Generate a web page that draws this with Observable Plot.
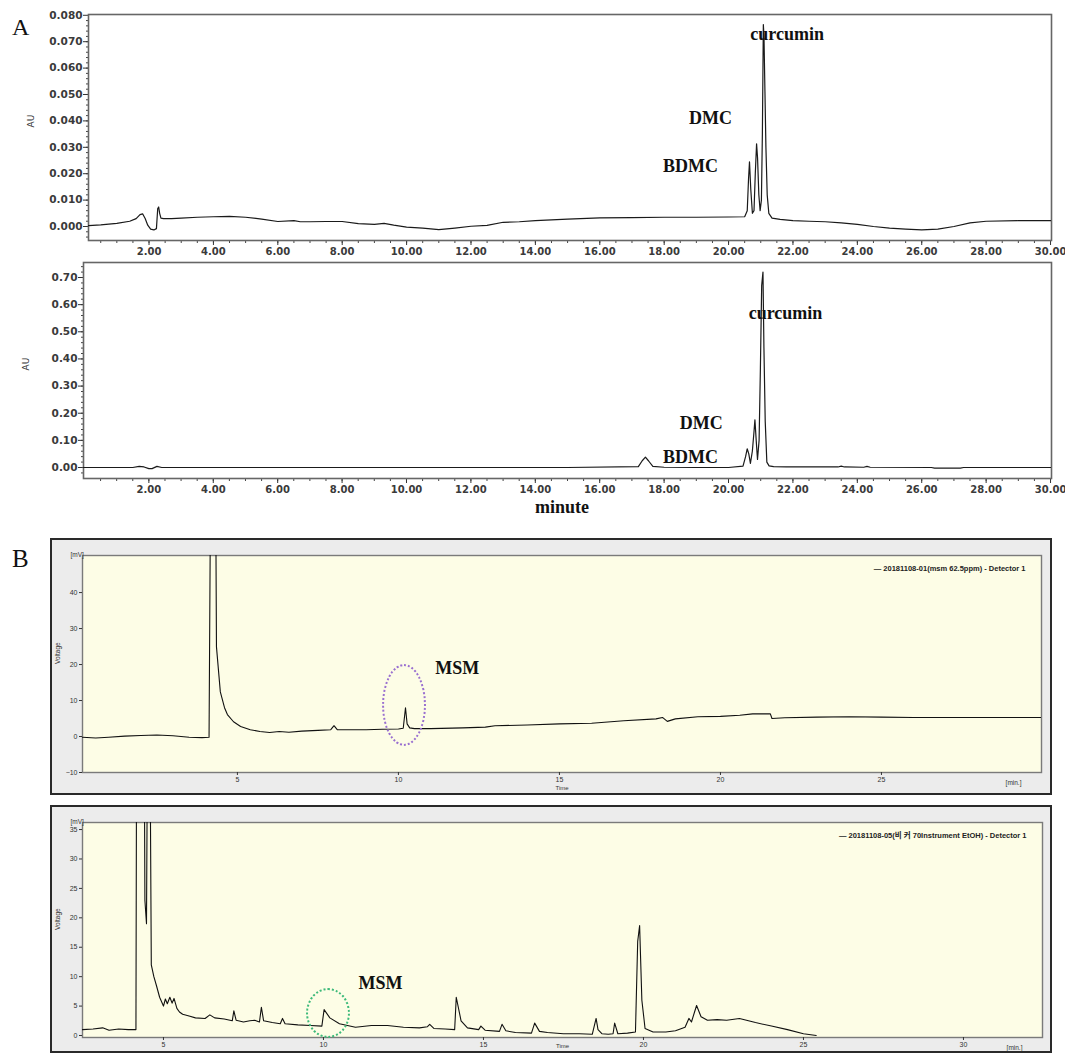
<!DOCTYPE html>
<html><head><meta charset="utf-8">
<script src="https://cdn.jsdelivr.net/npm/d3@7"></script>
<script src="https://cdn.jsdelivr.net/npm/@observablehq/plot@0.6"></script>
<style>
body{margin:0;background:#fff;}
#root{position:relative;width:1065px;height:1053px;overflow:hidden;background:#fff;}
.slot{position:absolute;left:0;}
.lbl{position:absolute;font-family:"Liberation Serif","Times New Roman",serif;color:#111;white-space:nowrap;}
.panelB{position:absolute;box-sizing:border-box;border:2px solid #2a2a2a;background:#ececec;overflow:hidden;}
.ell{position:absolute;border-radius:50%;box-sizing:border-box;}
svg{overflow:visible;}
</style></head><body><div id="root"></div>
<script>
// ---------- Panel A (top): HPLC standard ----------
const a1Time = [0.12,0.5,1.0,1.4,1.6,1.72,1.8,1.88,1.96,2.05,
  2.15,2.23,2.27,2.3,2.33,2.37,2.45,2.7,3.0,3.5,
  4.0,4.5,5.0,5.5,6.0,6.5,6.7,7.0,7.5,8.0,
  8.5,9.0,9.3,9.6,10.0,10.5,11.0,11.5,12.0,12.5,
  13.0,13.5,14.0,15.0,16.0,17.0,18.0,19.0,20.0,20.5,
  20.58,20.62,20.65,20.69,20.74,20.79,20.83,20.87,20.9,20.94,
  20.98,21.02,21.05,21.08,21.1,21.13,21.16,21.2,21.25,21.35,
  21.6,22.0,22.5,23.0,23.5,24.0,24.5,25.0,25.5,26.0,
  26.5,27.0,27.5,28.0,29.0,30.03];
const a1Value = [0.0003,0.0006,0.0012,0.002,0.003,0.0045,0.0048,0.003,0.0005,-0.001,
  -0.0013,-0.0008,0.0068,0.0074,0.005,0.0032,0.003,0.003,0.0032,0.0035,
  0.0037,0.0038,0.0035,0.0028,0.0019,0.0022,0.0018,0.0018,0.0019,0.0019,
  0.0011,0.0008,0.0012,0.0005,-0.0002,-0.0006,-0.0012,-0.0006,0.0001,0.0004,
  0.0016,0.0018,0.0022,0.0028,0.0033,0.0034,0.0035,0.0035,0.0036,0.0037,
  0.006,0.018,0.0245,0.014,0.005,0.006,0.02,0.0313,0.026,0.012,
  0.006,0.01,0.035,0.0765,0.072,0.051,0.03,0.012,0.005,0.0032,
  0.0027,0.0022,0.002,0.0018,0.0014,0.0008,0.0,-0.0006,-0.001,-0.0013,
  -0.001,0.0,0.0014,0.002,0.0022,0.0022];
const a1LabelText = ["curcumin","DMC","BDMC"];
const a1LabelTime = [21.82,19.44,18.82];
const a1LabelValue = [0.0730,0.0409,0.0228];
const a1YTicks = [0,0.01,0.02,0.03,0.04,0.05,0.06,0.07,0.08];

// ---------- Panel A (bottom): HPLC sample ----------
const a2Time = [-0.03,1.5,1.7,1.85,2.0,2.1,2.25,2.4,5.0,10.0,
  15.0,17.2,17.32,17.42,17.52,17.65,18.0,19.0,20.0,20.45,
  20.53,20.58,20.63,20.68,20.74,20.79,20.82,20.86,20.9,20.95,
  20.99,21.03,21.07,21.1,21.14,21.19,21.26,21.4,21.8,23.4,
  23.5,23.6,24.2,24.3,24.4,26.3,26.4,27.2,27.3,30.03];
const a2Value = [0.0,0.0,0.004,0.002,-0.004,-0.004,0.004,0.0,0.0,0.0,
  0.0,0.003,0.025,0.038,0.024,0.004,0.001,0.0,0.0,0.005,
  0.04,0.069,0.05,0.015,0.06,0.13,0.176,0.1,0.03,0.1,
  0.364,0.67,0.72,0.44,0.17,0.02,0.006,0.003,0.002,0.002,
  0.005,0.002,0.001,0.004,0.001,0.0,-0.002,-0.002,0.0,0.0];
const a2LabelText = ["curcumin","DMC","BDMC"];
const a2LabelTime = [21.77,19.15,18.82];
const a2LabelValue = [0.567,0.163,0.0361];
const a2YTicks = [0,0.1,0.2,0.3,0.4,0.5,0.6,0.7];

const aXTicks = [2,4,6,8,10,12,14,16,18,20,22,24,26,28,30];

// ---------- Panel B (top): MSM standard ----------
const b1Time = [0.19,0.6,1.0,1.5,2.0,2.5,3.0,3.5,3.9,4.12,
  4.16,4.33,4.35,4.47,4.6,4.69,4.88,5.1,5.4,5.7,
  6.0,6.3,6.6,7.0,7.5,7.9,8.0,8.1,8.5,9.0,
  9.5,10.0,10.15,10.22,10.27,10.35,10.5,11.0,12.0,12.7,
  13.0,14.0,15.0,16.0,17.0,18.0,18.2,18.35,18.6,19.3,
  20.0,20.6,21.0,21.55,21.6,22.0,23.0,24.0,25.0,26.0,
  27.0,28.0,29.0,29.97];
const b1Value = [-0.2,-0.4,-0.2,0.1,0.3,0.4,0.2,-0.2,-0.3,-0.2,
  60,60,24.9,12.4,8.0,6.1,4.1,2.8,1.9,1.4,
  1.1,1.4,1.2,1.5,1.7,1.9,3.0,1.9,1.9,1.9,
  2.0,2.1,2.3,8.0,3.5,2.4,2.2,2.2,2.4,2.6,
  3.0,3.2,3.5,3.7,4.4,4.9,5.3,4.2,4.9,5.5,
  5.6,5.9,6.3,6.3,5.0,5.2,5.4,5.5,5.4,5.3,
  5.3,5.3,5.3,5.3];
const b1Legend = "— 20181108-01(msm 62.5ppm) - Detector 1";
const b1YTicks = [-10,0,10,20,30,40];
const b1XTicks = [5,10,15,20,25];

// ---------- Panel B (bottom): sample ----------
const b2Time = [2.47,2.8,3.1,3.3,3.6,3.9,4.14,4.16,4.4,4.42,
  4.47,4.5,4.58,4.62,4.7,4.78,4.88,5.0,5.06,5.12,
  5.2,5.27,5.33,5.42,5.5,5.6,5.8,6.0,6.3,6.45,
  6.6,6.9,7.15,7.2,7.27,7.5,7.7,7.85,8.0,8.06,
  8.13,8.4,8.65,8.72,8.8,9.2,9.6,9.95,10.02,10.2,
  10.5,11.0,11.5,12.0,12.5,13.0,13.25,13.32,13.45,13.8,
  14.1,14.15,14.3,14.5,14.85,14.92,15.05,15.5,15.58,15.7,
  16.0,16.5,16.6,16.75,17.0,17.5,18.0,18.4,18.52,18.58,
  18.7,18.9,19.05,19.1,19.2,19.5,19.75,19.82,19.88,19.95,
  20.05,20.3,20.7,21.0,21.3,21.42,21.5,21.66,21.8,22.0,
  22.3,22.6,23.0,23.5,24.0,24.5,25.0,25.4];
const b2Value = [1.0,1.1,1.3,0.9,1.1,1.0,1.0,50,50,23,
  19,50,50,12,10,8.5,6.5,5.0,6.2,5.4,
  6.5,5.5,6.3,4.6,4.0,3.6,3.3,3.0,2.9,3.5,
  3.0,2.8,2.5,4.2,2.6,2.3,2.5,2.6,2.3,4.8,
  2.5,2.2,2.0,2.9,2.0,1.8,1.7,1.6,4.4,3.0,
  2.0,1.4,1.7,1.7,1.4,1.3,1.5,1.9,1.2,1.1,
  1.0,6.5,2.5,1.3,1.0,1.6,0.9,0.7,1.9,0.8,
  0.5,0.4,2.1,0.7,0.5,0.3,0.3,0.2,2.9,1.0,
  0.3,0.2,0.3,2.1,0.3,0.4,0.6,16,18.7,6,
  1.2,0.6,0.6,0.8,1.4,2.9,2.3,5.1,3.2,2.6,
  2.7,2.6,2.9,2.2,1.6,1.0,0.3,0.0];
const b2Legend = "— 20181108-05(비 커 70Instrument EtOH) - Detector 1";
const b2YTicks = [0,5,10,15,20,25,30,35];
const b2XTicks = [5,10,15,20,25,30];

const bMsmText = ["MSM"];
const b1MsmTime = [11.83], b1MsmValue = [19.1];
const b2MsmTime = [11.78], b2MsmValue = [8.8];

// ---------- helpers ----------
const root = document.getElementById("root");
function zip(t, v) { return t.map((x, i) => ({t: x, v: v[i]})); }
function labels(txt, t, v) { return txt.map((s, i) => ({s, t: t[i], v: v[i]})); }
function place(node, top, left) {
  const d = document.createElement("div");
  d.className = "slot"; d.style.top = top + "px"; d.style.left = (left||0) + "px";
  d.appendChild(node); root.appendChild(d); return d;
}

function chartA({time, value, lab, xDomain, yDomain, yTicks, yMinor, fmt, height, mt, mb, ml}) {
  return Plot.plot({
    width: 1065, height, marginLeft: ml, marginRight: 14, marginTop: mt, marginBottom: mb,
    style: {background: "transparent", color: "#333", fontFamily: "DejaVu Sans, sans-serif", fontSize: "11px", overflow: "visible"},
    x: {domain: xDomain},
    y: {domain: yDomain},
    marks: [
      Plot.axisX({ticks: d3.range(0.5, 30, 0.5), tickSize: 3, tickFormat: () => "", label: null, stroke: "#444"}),
      Plot.axisX({ticks: aXTicks, tickSize: 5, tickPadding: 2, tickFormat: d => d.toFixed(2), label: null, fontWeight: "bold", fontSize: 10, fill: "#3a3a3a"}),
      Plot.axisY({ticks: yMinor, tickSize: 2, tickFormat: () => "", label: null, stroke: "#444"}),
      Plot.axisY({ticks: yTicks, tickSize: 5, tickPadding: 1, tickFormat: fmt, label: null, fontWeight: "bold", fontSize: 10.5, fill: "#3a3a3a"}),
      Plot.frame({stroke: "#666", strokeWidth: 1.6}),
      Plot.line(zip(time, value), {x: "t", y: "v", stroke: "#1a1a1a", strokeWidth: 1.2, clip: true}),
      Plot.text(lab, {x: "t", y: "v", text: "s", fontFamily: "Liberation Serif, serif", fontWeight: "bold", fontSize: 18, fill: "#111"}),
      Plot.text(["AU"], {text: d => d, frameAnchor: "left", dx: -57, rotate: -90, fontSize: 9, fill: "#333"})
    ]
  });
}

function chartB({time, value, legend, xDomain, yDomain, yTicks, xTicks, msm, height, mb, mr, timeDy}) {
  return Plot.plot({
    width: 998, height, marginLeft: 30, marginRight: mr, marginTop: 15, marginBottom: mb,
    style: {background: "transparent", color: "#333", fontFamily: "Liberation Sans, Arial, sans-serif", fontSize: "7px", overflow: "visible"},
    x: {domain: xDomain},
    y: {domain: yDomain},
    marks: [
      Plot.frame({fill: "#fdfde6", stroke: "#7a7a7a", strokeWidth: 1.4}),
      Plot.axisX({ticks: xTicks, tickSize: 3, tickPadding: 2, label: null, fontSize: 7}),
      Plot.axisY({ticks: yTicks, tickSize: 3, tickPadding: 2, label: null, fontSize: 7}),
      Plot.line(zip(time, value), {x: "t", y: "v", stroke: "#111", strokeWidth: 1.1, clip: true}),
      Plot.text([legend], {text: d => d, frameAnchor: "top-right", dx: -16, dy: 10, textAnchor: "end", fontSize: 7.5, fontWeight: "bold", fill: "#222", fontFamily: "Liberation Sans, Noto Sans CJK KR, sans-serif"}),
      Plot.text(["[mV]"], {text: d => d, frameAnchor: "top-left", dx: -12, dy: -3, fontSize: 6.5}),
      Plot.text(["[min.]"], {text: d => d, frameAnchor: "bottom-right", dx: -20, dy: 12, fontSize: 6.5}),
      Plot.text(["Time"], {text: d => d, frameAnchor: "bottom", dy: timeDy, fontSize: 6}),
      Plot.text(["Voltage"], {text: d => d, frameAnchor: "left", dx: -25, rotate: -90, fontSize: 6.5}),
      Plot.text(msm, {x: "t", y: "v", text: "s", fontFamily: "Liberation Serif, serif", fontWeight: "bold", fontSize: 18, fill: "#111"})
    ]
  });
}

// ---------- panel A ----------
place(chartA({time: a1Time, value: a1Value, lab: labels(a1LabelText, a1LabelTime, a1LabelValue),
  xDomain: [0.12, 30.03], yDomain: [-0.0053, 0.0803], yTicks: a1YTicks, yMinor: d3.range(-0.004, 0.08, 0.002),
  fmt: d => d.toFixed(3), height: 258, mt: 14, mb: 18, ml: 88}), 0);
place(chartA({time: a2Time, value: a2Value, lab: labels(a2LabelText, a2LabelTime, a2LabelValue),
  xDomain: [-0.03, 30.03], yDomain: [-0.0405, 0.7553], yTicks: a2YTicks, yMinor: d3.range(-0.02, 0.75, 0.02),
  fmt: d => d.toFixed(2), height: 245, mt: 7, mb: 22, ml: 83}), 255);

function htmlLabel(text, left, top, css) {
  const d = document.createElement("div");
  d.className = "lbl"; d.textContent = text;
  d.style.left = left + "px"; d.style.top = top + "px";
  Object.assign(d.style, css || {});
  root.appendChild(d);
}
htmlLabel("A", 12, 14, {fontSize: "24px"});
htmlLabel("B", 12, 545, {fontSize: "25px"});
htmlLabel("minute", 512, 497, {fontSize: "18px", fontWeight: "bold", width: "100px", textAlign: "center"});

// ---------- panel B ----------
function boxB(top, height) {
  const d = document.createElement("div");
  d.className = "panelB";
  d.style.left = "50px"; d.style.top = top + "px"; d.style.width = "1002px"; d.style.height = height + "px";
  root.appendChild(d); return d;
}
const bx1 = boxB(538, 257);
bx1.appendChild(chartB({time: b1Time, value: b1Value, legend: b1Legend, xDomain: [0.19, 29.97], yDomain: [-10, 50.3],
  yTicks: b1YTicks, xTicks: b1XTicks, msm: labels(bMsmText, b1MsmTime, b1MsmValue), height: 253, mb: 21, mr: 9, timeDy: 17}));
const bx2 = boxB(805, 248);
bx2.appendChild(chartB({time: b2Time, value: b2Value, legend: b2Legend, xDomain: [2.47, 32.47], yDomain: [-0.34, 36.2],
  yTicks: b2YTicks, xTicks: b2XTicks, msm: labels(bMsmText, b2MsmTime, b2MsmValue), height: 244, mb: 14, mr: 8, timeDy: 10}));

function ellipse(cx, cy, rx, ry, color) {
  const d = document.createElement("div");
  d.className = "ell";
  d.style.left = (cx - rx) + "px"; d.style.top = (cy - ry) + "px";
  d.style.width = (2 * rx) + "px"; d.style.height = (2 * ry) + "px";
  d.style.border = "2px dotted " + color;
  root.appendChild(d);
}
ellipse(404, 705, 22, 41, "#9a70d0");
ellipse(328, 1013, 22, 25, "#3dba7a");
</script></body></html>
